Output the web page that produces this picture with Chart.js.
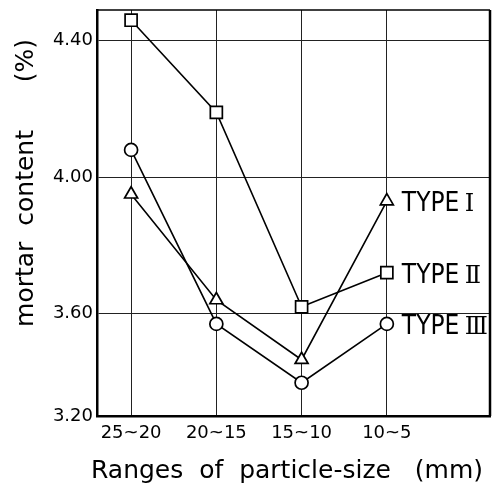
<!DOCTYPE html>
<html>
<head>
<meta charset="utf-8">
<script src="https://cdn.jsdelivr.net/npm/chart.js@4"></script>
<style>
  html, body { margin: 0; padding: 0; background: #fff; overflow: hidden; }
  canvas { display: block; }
</style>
</head>
<body>
<canvas id="mortarChart" width="492" height="487"></canvas>
<script>
// particle size ranges (mm)
const categories = ["25~20", "20~15", "15~10", "10~5"];
// mortar content (%)
const type1 = [3.95, 3.64, 3.42, 3.93];
const type2 = [4.46, 4.19, 3.62, 3.72];
const type3 = [4.08, 3.56, 3.33, 3.56];
const seriesNames = ["TYPE ", "TYPE ", "TYPE "];
const seriesNumerals = ["Ⅰ", "Ⅱ", "Ⅲ"];
const yTicks = [3.20, 3.60, 4.00, 4.40];

// the original figure squeezes the 3.20-3.60 band
const BREAK = 3.6, SQUEEZE = 0.75;
function squeeze(v) { return v >= BREAK ? v : BREAK - (BREAK - v) * SQUEEZE; }
function unsqueeze(v) { return v >= BREAK ? v : BREAK - (BREAK - v) / SQUEEZE; }

class SqueezedScale extends Chart.LinearScale {
  getPixelForValue(value) { return super.getPixelForValue(squeeze(value)); }
  getValueForPixel(pixel) { return unsqueeze(super.getValueForPixel(pixel)); }
}
SqueezedScale.id = "squeezed";
SqueezedScale.defaults = Chart.LinearScale.defaults;
Chart.register(SqueezedScale);

const textFont = '"DejaVu Sans", sans-serif';

function toPoints(arr) {
  return arr.map((v, i) => ({ x: i, y: v }));
}

function lineSet(label, data, style, radius) {
  return {
    label: label,
    data: toPoints(data),
    borderColor: "#000",
    borderWidth: 1.6,
    pointStyle: style,
    pointRadius: radius,
    pointHoverRadius: radius,
    pointBackgroundColor: "#fff",
    pointBorderColor: "#000",
    pointBorderWidth: 1.7,
    tension: 0
  };
}

var annotate = {
  id: "annotate",
  beforeDatasetsDraw(chart) {
    const ctx = chart.ctx, a = chart.chartArea;
    ctx.save();
    ctx.strokeStyle = "#000";
    ctx.lineWidth = 1.5;
    ctx.beginPath();
    ctx.moveTo(a.left, a.top);
    ctx.lineTo(a.right, a.top);
    ctx.stroke();
    ctx.lineWidth = 2.5;
    ctx.beginPath();
    ctx.moveTo(a.right, a.top);
    ctx.lineTo(a.right, a.bottom);
    ctx.stroke();
    ctx.restore();
  },
  afterDatasetsDraw(chart) {
    const ctx = chart.ctx;
    ctx.save();
    ctx.fillStyle = "#000";
    ctx.textBaseline = "alphabetic";
    ctx.textAlign = "left";
    chart.data.datasets.forEach((ds, i) => {
      const pts = chart.getDatasetMeta(i).data;
      const p = pts[pts.length - 1];
      const x0 = p.x + 15, base = p.y + 10;
      ctx.font = '26px "DejaVu Sans Condensed", "DejaVu Sans", sans-serif';
      const name = seriesNames[i];
      ctx.fillText(name, x0, base);
      const w = ctx.measureText(name).width;
      ctx.font = '24px "DejaVu Serif", serif';
      ctx.fillText(seriesNumerals[i], x0 + w - 2, base);
    });

    // axis titles
    ctx.font = "25px " + textFont;
    ctx.textAlign = "center";
    ctx.textBaseline = "alphabetic";
    ctx.fillText("Ranges  of  particle-size   (mm)", 287, 478);

    ctx.translate(33, 183);
    ctx.rotate(-Math.PI / 2);
    ctx.fillText("mortar  content      (%)", 0, 0);
    ctx.restore();
  }
};

var mortarChart = new Chart(document.getElementById("mortarChart"), {
  type: "line",
  data: {
    datasets: [
      lineSet("TYPE I", type1, "triangle", 7.5),
      lineSet("TYPE II", type2, "rect", 8.5),
      lineSet("TYPE III", type3, "circle", 6.5)
    ]
  },
  options: {
    responsive: false,
    animation: false,
    events: [],
    layout: { autoPadding: false, padding: { top: 10, right: 2, left: 0, bottom: 0 } },
    plugins: {
      legend: { display: false },
      tooltip: { enabled: false }
    },
    scales: {
      x: {
        type: "linear",
        min: -0.4,
        max: 4.21,
        afterBuildTicks: (scale) => {
          scale.ticks = categories.map((c, i) => ({ value: i }));
        },
        afterFit: (scale) => {
          scale.height = 71;
          scale.paddingLeft = 0;
          scale.paddingRight = 0;
        },
        ticks: {
          autoSkip: false,
          maxRotation: 0,
          padding: 7,
          color: "#000",
          font: { family: textFont, size: 18 },
          callback: (value) => categories[value]
        },
        grid: { color: "#222", lineWidth: 1, drawTicks: false },
        border: { display: true, color: "#000", width: 2.5 }
      },
      y: {
        type: "squeezed",
        min: squeeze(3.2),
        max: 4.49,
        afterBuildTicks: (scale) => {
          scale.ticks = yTicks.map((v) => ({ value: v }));
        },
        afterFit: (scale) => {
          scale.width = 97;
          scale.paddingTop = 0;
          scale.paddingBottom = 0;
        },
        ticks: {
          autoSkip: false,
          padding: 4,
          color: "#000",
          font: { family: textFont, size: 18 },
          callback: (value) => value.toFixed(2)
        },
        grid: { color: "#222", lineWidth: 1, drawTicks: false },
        border: { display: true, color: "#000", width: 2.5 }
      }
    }
  },
  plugins: [annotate]
});
</script>
</body>
</html>
